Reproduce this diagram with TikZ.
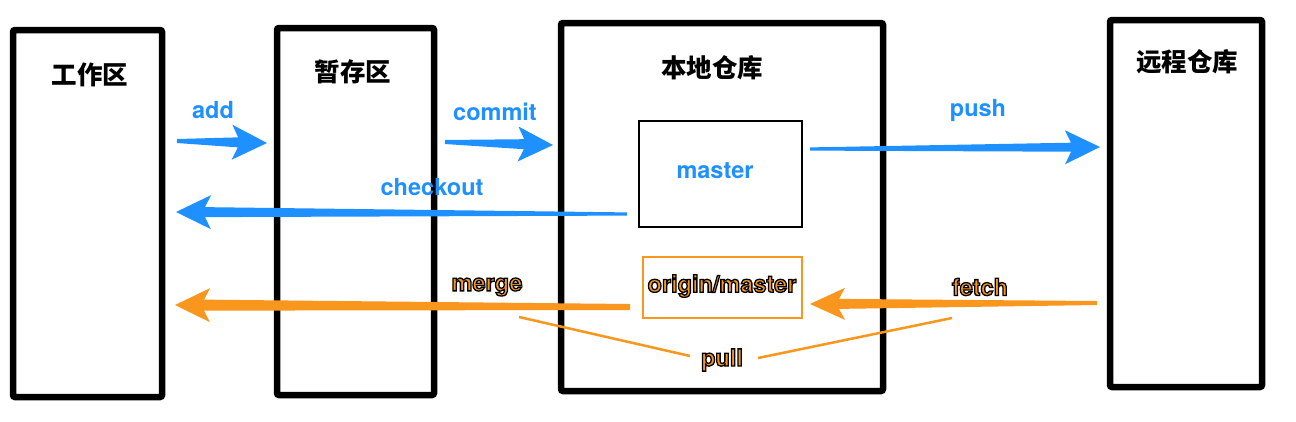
\documentclass[tikz,border=0pt]{standalone}
\usepackage{fontspec}
\usetikzlibrary{calc}
\newfontfamily\cjk{Noto Sans CJK SC}
\newfontfamily\lab{TeX Gyre Heros}
\definecolor{gblue}{RGB}{30,144,255}
\definecolor{gorange}{RGB}{248,150,30}
\newcommand\outl[1]{\special{pdf:literal direct 2 Tr 0 0 0 RG 1.3 w}#1\special{pdf:literal direct 0 Tr}}
% #1 from, #2 to, #3 colour, #4 tail half width, #5 neck half width, #6 head half width
\newcommand\fatarrow[6]{%
  \coordinate (fa-n) at ($(#2)!29pt!(#1)$);
  \coordinate (fa-b) at ($(#2)!35pt!(#1)$);
  \fill[#3] ($(#1)!#4!90:(#2)$) -- ($(fa-n)!#5!90:(#2)$) -- ($(fa-b)!#6!90:(#2)$)
    -- (#2) -- ($(fa-b)!#6!-90:(#2)$) -- ($(fa-n)!#5!-90:(#2)$) -- ($(#1)!#4!-90:(#2)$) -- cycle;
}
\tikzset{
  bigbox/.style={draw=black, line width=6.5pt, rounded corners=2pt, fill=none, inner sep=0pt},
  smallbox/.style={draw=black, line width=2pt, inner sep=0pt},
  obox/.style={draw=gorange, line width=2.3pt, inner sep=0pt},
  zh/.style={font=\cjk\bfseries\fontsize{25.5pt}{28pt}\selectfont, text=black},
  bl/.style={font=\lab\bfseries\fontsize{23.5pt}{26pt}\selectfont, text=gblue},
  ol/.style={font=\lab\bfseries\fontsize{23.5pt}{26pt}\selectfont, text=gorange},
  pullline/.style={draw=gorange, line width=2.5pt},
}
\begin{document}
\begin{tikzpicture}[x=1pt,y=-1pt]
\useasboundingbox (0,0) rectangle (1296,421);
\fill[white] (0,0) rectangle (1296,421);
% boxes
\node[bigbox, minimum width=149pt, minimum height=367pt] (wk) at (87.5,213.5) {};
\node[bigbox, minimum width=157pt, minimum height=367pt] (st) at (355.5,211.5) {};
\node[bigbox, minimum width=322pt, minimum height=368pt] (lo) at (722,207) {};
\node[bigbox, minimum width=152pt, minimum height=367pt] (re) at (1186,203.5) {};
\node[smallbox, minimum width=163pt, minimum height=106pt] (ma) at (720.75,174) {};
\node[obox, minimum width=159pt, minimum height=61pt] (om) at (722.5,287.5) {};
% titles
\node[zh] (twk) at (90,75) {工作区};
\node[zh] (tst) at (353,72) {暂存区};
\node[zh] (tlo) at (712,68) {本地仓库};
\node[zh] (tre) at (1187,62) {远程仓库};
% inner labels
\node[bl] (tma) at (715,171) {master};
\node[ol] (tom) at (722,286) {\outl{origin/master}};
% arrow endpoints
\coordinate (add-s) at (177,141);
\coordinate (add-e) at (267,143);
\coordinate (com-s) at (445,142);
\coordinate (com-e) at (553,145);
\coordinate (push-s) at (810,149);
\coordinate (push-e) at (1100,147);
\coordinate (co-s) at (627,214);
\coordinate (co-e) at (176,212);
\coordinate (mg-s) at (630,307);
\coordinate (mg-e) at (175,305);
\coordinate (fe-s) at (1097,303);
\coordinate (fe-e) at (810,304);
\fatarrow{add-s}{add-e}{gblue}{2pt}{5pt}{17.5pt}
\fatarrow{com-s}{com-e}{gblue}{2pt}{5pt}{17.5pt}
\fatarrow{push-s}{push-e}{gblue}{1.6pt}{4.5pt}{17pt}
\fatarrow{co-s}{co-e}{gblue}{1.6pt}{5pt}{17pt}
\fatarrow{mg-s}{mg-e}{gorange}{3pt}{5.5pt}{17pt}
\fatarrow{fe-s}{fe-e}{gorange}{2pt}{5pt}{16pt}
% arrow labels
\node[bl] (ladd) at (213,110) {add};
\node[bl] (lcom) at (495,112) {commit};
\node[bl] (lpush) at (978,110) {push};
\node[bl] (lco) at (432,187) {checkout};
\node[ol] (lmg) at (487,287) {\outl{merge}};
\node[ol] (lfe) at (980,287) {\outl{fetch}};
\node[ol] (lpull) at (722,360) {\outl{pull}};
% pull lines
\coordinate (p1a) at (519,317);
\coordinate (p1b) at (690,356);
\coordinate (p2a) at (758,358);
\coordinate (p2b) at (952,318);
\draw[pullline] (p1a) -- (p1b);
\draw[pullline] (p2a) -- (p2b);
\end{tikzpicture}
\end{document}
